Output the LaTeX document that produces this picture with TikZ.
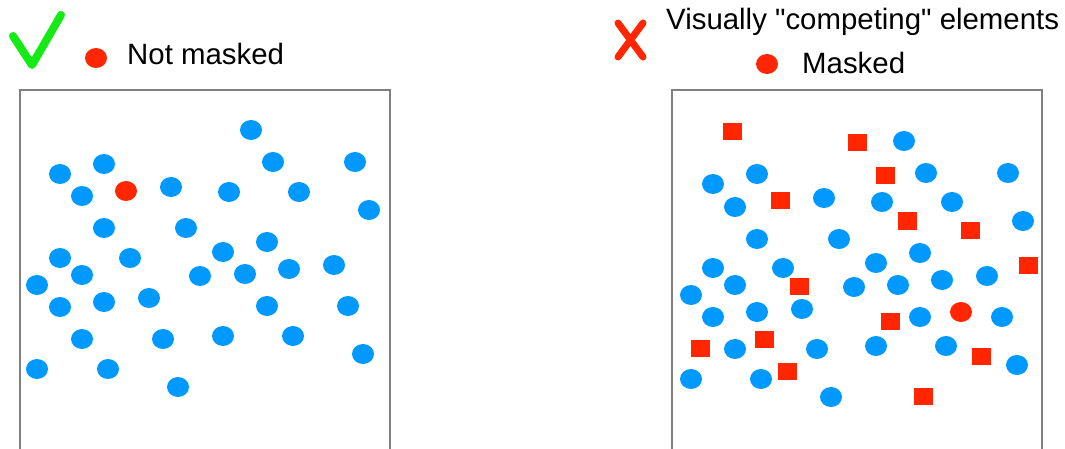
\documentclass[tikz,border=0pt]{standalone}
\usepackage{fontspec}
\setmainfont{Liberation Sans}[Ligatures=TeXOff]
\usetikzlibrary{shapes.geometric}
\definecolor{dotblue}{RGB}{0,153,255}
\definecolor{maskred}{RGB}{255,38,0}
\definecolor{okgreen}{RGB}{20,235,20}
\definecolor{framegray}{RGB}{128,128,128}
\tikzset{
  bdot/.style={ellipse, fill=dotblue, draw=none, minimum width=22pt, minimum height=20pt, inner sep=0pt},
  rdot/.style={ellipse, fill=maskred, draw=none, minimum width=22pt, minimum height=20pt, inner sep=0pt},
  rsq/.style={rectangle, fill=maskred, draw=none, minimum width=19pt, minimum height=17pt, inner sep=0pt},
  frame/.style={draw=framegray, line width=2pt},
  label/.style={anchor=base west, inner sep=0pt, font=\fontsize{29.4}{35}\selectfont}
}
\begin{document}
\begin{tikzpicture}[x=1pt,y=-1pt]
\useasboundingbox (0,0) rectangle (1065,449);
% header left
\coordinate (ck1) at (13,36);
\coordinate (ck2) at (32,65);
\coordinate (ck3) at (61,15);
\draw[okgreen, line width=8pt, line cap=round, line join=round] (ck1) -- (ck2) -- (ck3);
\node[rdot] (legL) at (96,58) {};
\node[label] (txtL) at (127,65) {Not masked};
% header right
\coordinate (x1) at (618,23);
\coordinate (x2) at (643,57);
\coordinate (x3) at (643,23);
\coordinate (x4) at (618,57);
\draw[maskred, line width=7pt, line cap=round] (x1) -- (x2) (x3) -- (x4);
\node[label] (txtR1) at (666,30) {Visually "competing" elements};
\node[rdot] (legR) at (767,64) {};
\node[label] (txtR2) at (802,74) {Masked};
% frames
\coordinate (fl1) at (20,452);
\coordinate (fl2) at (20,90);
\coordinate (fl3) at (390,90);
\coordinate (fl4) at (390,452);
\draw[frame] (fl1) -- (fl2) -- (fl3) -- (fl4);
\coordinate (fr1) at (672,452);
\coordinate (fr2) at (672,90);
\coordinate (fr3) at (1042,90);
\coordinate (fr4) at (1042,452);
\draw[frame] (fr1) -- (fr2) -- (fr3) -- (fr4);
% left panel dots
\foreach \x/\y [count=\i] in {251/130,104/164,60/174,273/162,355/162,82/196,171/187,229/192,299/192,369/210,
  104/228,186/228,267/242,223/252,60/258,130/258,82/275,37/285,200/276,245/274,289/269,334/265,
  60/307,104/302,149/298,267/306,348/306,82/339,163/339,223/336,293/336,363/354,37/369,108/369,178/387}
  \node[bdot] (lb\i) at (\x,\y) {};
\node[rdot] (lred) at (126,191) {};
% right panel dots
\foreach \x/\y [count=\i] in {904/141,757/174,713/184,926/173,1008/173,735/207,824/198,882/202,952/202,1023/221,
  757/239,839/239,920/253,876/263,713/268,783/268,735/285,691/295,854/287,898/285,942/280,987/276,
  713/317,757/312,802/309,920/317,1002/317,735/349,817/349,876/346,946/346,1017/365,691/379,761/379,831/397}
  \node[bdot] (rb\i) at (\x,\y) {};
\node[rdot] (rred) at (961,312) {};
% red squares
\foreach \x/\y [count=\i] in {732/132,857/143,885/176,780/201,907/221,970/230,1028/265,799/286,890/321,764/339,700/348,787/371,981/356,923/396}
  \node[rsq] (sq\i) at (\x,\y) {};
\end{tikzpicture}
\end{document}
